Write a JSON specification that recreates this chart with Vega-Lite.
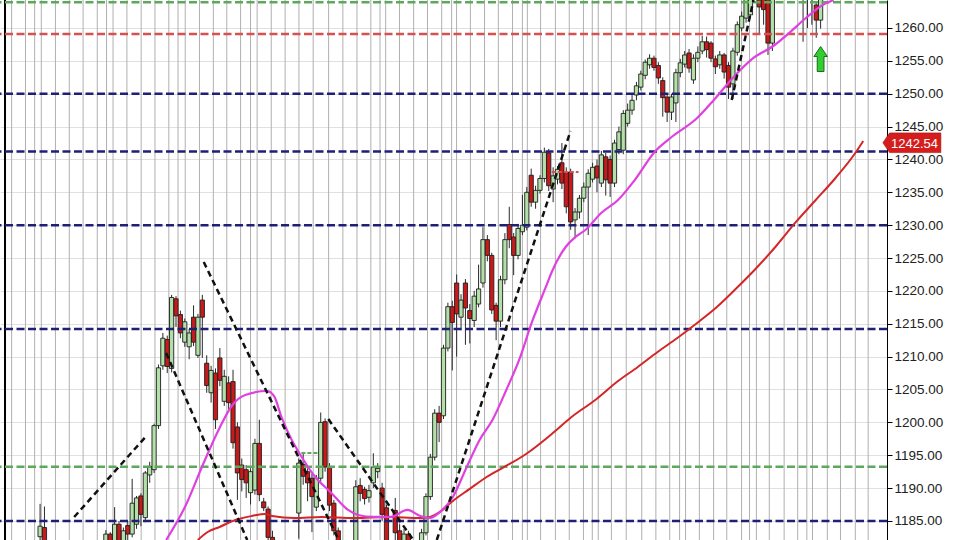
{
  "$schema": "https://vega.github.io/schema/vega-lite/v6.json",
  "width": 887,
  "height": 540,
  "autosize": {"type": "none"},
  "padding": {"left": 0, "top": 0, "right": 73, "bottom": 0},
  "background": "white",
  "config": {
    "view": {"stroke": null},
    "axisY": {"grid": true, "gridColor": "#e0e0e0", "gridWidth": 1, "domainColor": "#000000", "domainWidth": 1, "tickColor": "#000000", "tickSize": 5, "labelFont": "Liberation Sans", "labelFontSize": 13.5, "labelColor": "#222222", "labelPadding": 2, "labelOverlap": false, "labelFlush": false, "labelBound": false}
  },
  "datasets": {
    "vgrid": [{"t":1.51},{"t":4.67},{"t":6.76},{"t":8.28},{"t":11.5},{"t":14.66},{"t":17.81},{"t":21.04},{"t":23.16},{"t":24.64},{"t":27.8},{"t":31.05},{"t":34.2},{"t":37.36},{"t":39.46},{"t":41.1},{"t":44.35},{"t":47.51},{"t":50.58},{"t":53.73},{"t":55.99},{"t":57.5},{"t":60.72},{"t":63.88},{"t":67.03},{"t":70.28},{"t":73.8},{"t":77.05},{"t":80.27},{"t":83.43},{"t":85.52},{"t":86.81},{"t":89.97},{"t":93.19},{"t":96.35},{"t":99.59},{"t":101.85},{"t":102.98},{"t":106.13},{"t":109.36},{"t":112.51},{"t":115.74},{"t":117.99},{"t":119.12},{"t":122.14},{"t":125.52},{"t":128.68},{"t":131.91},{"t":133.93},{"t":135.29},{"t":138.29},{"t":141.67},{"t":145.21},{"t":148.43},{"t":151.59},{"t":153.84},{"t":155.2},{"t":158.35},{"t":161.6},{"t":164.6},{"t":167.98},{"t":169.79},{"t":171.36},{"t":174.3},{"t":177.68},{"t":180.77},{"t":182.86},{"t":184.15},{"t":187.53},{"t":190.53},{"t":193.91},{"t":196.84}],
    "levels": [{"p":1263.9,"kind":"green"},{"p":1259.1,"kind":"red"},{"p":1250,"kind":"navy"},{"p":1241.2,"kind":"navy"},{"p":1230,"kind":"navy"},{"p":1214.2,"kind":"navy"},{"p":1193.25,"kind":"green"},{"p":1185,"kind":"navy"}],
    "candles": [
      {"t":8,"o":1182.6,"h":1187.6,"l":1180.0,"c":1184.2},
      {"t":9,"o":1184.0,"h":1187.2,"l":1179.5,"c":1181.5},
      {"t":10,"o":1181.5,"h":1181.8,"l":1177.0,"c":1178.2},
      {"t":11,"o":1178.2,"h":1180.0,"l":1176.0,"c":1177.0},
      {"t":12,"o":1177.0,"h":1178.5,"l":1174.0,"c":1175.5},
      {"t":13,"o":1175.5,"h":1177.8,"l":1173.5,"c":1177.2},
      {"t":14,"o":1177.2,"h":1179.0,"l":1175.0,"c":1176.0},
      {"t":15,"o":1176.0,"h":1178.0,"l":1174.8,"c":1177.5},
      {"t":16,"o":1177.5,"h":1180.0,"l":1176.5,"c":1179.2},
      {"t":17,"o":1179.2,"h":1180.5,"l":1177.0,"c":1178.0},
      {"t":18,"o":1178.0,"h":1179.5,"l":1175.5,"c":1176.8},
      {"t":19,"o":1176.8,"h":1179.8,"l":1176.0,"c":1179.0},
      {"t":20,"o":1179.0,"h":1181.2,"l":1178.0,"c":1180.5},
      {"t":21,"o":1180.5,"h":1181.0,"l":1177.5,"c":1178.5},
      {"t":22,"o":1178.5,"h":1181.0,"l":1177.0,"c":1180.5},
      {"t":23,"o":1180.5,"h":1183.6,"l":1179.5,"c":1183.0},
      {"t":24,"o":1183.0,"h":1183.3,"l":1179.0,"c":1180.0},
      {"t":25,"o":1180.0,"h":1187.1,"l":1179.5,"c":1184.5},
      {"t":26,"o":1184.5,"h":1185.0,"l":1179.0,"c":1180.5},
      {"t":27,"o":1179.5,"h":1184.0,"l":1179.0,"c":1183.5},
      {"t":28,"o":1184.3,"h":1185.0,"l":1181.5,"c":1183.0},
      {"t":29,"o":1183.0,"h":1191.4,"l":1182.5,"c":1187.7},
      {"t":30,"o":1184.5,"h":1188.8,"l":1183.8,"c":1188.5},
      {"t":31,"o":1188.8,"h":1189.2,"l":1184.2,"c":1186.0},
      {"t":32,"o":1185.5,"h":1192.6,"l":1184.8,"c":1192.3},
      {"t":33,"o":1192.0,"h":1194.0,"l":1190.8,"c":1193.3},
      {"t":34,"o":1192.8,"h":1199.8,"l":1192.3,"c":1199.5},
      {"t":35,"o":1199.5,"h":1208.8,"l":1199.0,"c":1208.3},
      {"t":36,"o":1208.6,"h":1213.6,"l":1208.0,"c":1212.8},
      {"t":37,"o":1212.6,"h":1213.2,"l":1207.5,"c":1208.5},
      {"t":38,"o":1208.2,"h":1219.4,"l":1207.6,"c":1219.0},
      {"t":39,"o":1218.8,"h":1219.2,"l":1214.5,"c":1216.2},
      {"t":40,"o":1216.4,"h":1217.0,"l":1212.8,"c":1213.6},
      {"t":41,"o":1212.2,"h":1215.8,"l":1211.5,"c":1215.3},
      {"t":42,"o":1211.5,"h":1214.2,"l":1209.6,"c":1213.6},
      {"t":43,"o":1216.0,"h":1217.8,"l":1211.6,"c":1212.2},
      {"t":44,"o":1210.2,"h":1216.5,"l":1209.8,"c":1216.0},
      {"t":45,"o":1218.6,"h":1219.4,"l":1209.8,"c":1216.0},
      {"t":46,"o":1209.0,"h":1210.2,"l":1204.5,"c":1205.6},
      {"t":47,"o":1204.5,"h":1208.6,"l":1203.0,"c":1207.9},
      {"t":48,"o":1207.5,"h":1208.2,"l":1199.0,"c":1200.4},
      {"t":49,"o":1209.8,"h":1211.3,"l":1205.5,"c":1206.4},
      {"t":50,"o":1203.2,"h":1208.0,"l":1202.5,"c":1207.0},
      {"t":51,"o":1206.0,"h":1207.0,"l":1202.0,"c":1203.0},
      {"t":52,"o":1206.2,"h":1208.0,"l":1196.0,"c":1196.9},
      {"t":53,"o":1199.3,"h":1200.0,"l":1188.2,"c":1192.3},
      {"t":54,"o":1193.5,"h":1194.5,"l":1189.5,"c":1191.3},
      {"t":55,"o":1192.8,"h":1193.5,"l":1188.5,"c":1190.8},
      {"t":56,"o":1189.3,"h":1193.0,"l":1187.5,"c":1192.5},
      {"t":57,"o":1189.7,"h":1197.5,"l":1189.0,"c":1196.8},
      {"t":58,"o":1196.8,"h":1200.4,"l":1188.0,"c":1189.0},
      {"t":59,"o":1187.9,"h":1188.5,"l":1186.5,"c":1187.0},
      {"t":60,"o":1186.8,"h":1187.2,"l":1181.0,"c":1182.5},
      {"t":61,"o":1182.5,"h":1183.5,"l":1178.0,"c":1179.0},
      {"t":62,"o":1179.0,"h":1180.0,"l":1176.0,"c":1177.0},
      {"t":63,"o":1177.0,"h":1178.5,"l":1175.0,"c":1176.0},
      {"t":64,"o":1176.0,"h":1179.5,"l":1175.5,"c":1179.0},
      {"t":65,"o":1179.0,"h":1180.0,"l":1177.0,"c":1178.0},
      {"t":66,"o":1178.0,"h":1181.8,"l":1177.0,"c":1181.5},
      {"t":67,"o":1186.2,"h":1194.5,"l":1182.3,"c":1193.8},
      {"t":68,"o":1193.6,"h":1195.5,"l":1190.5,"c":1191.8},
      {"t":69,"o":1192.5,"h":1193.0,"l":1188.0,"c":1190.8},
      {"t":70,"o":1191.5,"h":1192.2,"l":1183.3,"c":1188.7},
      {"t":71,"o":1187.1,"h":1192.0,"l":1186.5,"c":1191.5},
      {"t":72,"o":1191.5,"h":1201.5,"l":1191.0,"c":1200.0},
      {"t":73,"o":1200.1,"h":1200.6,"l":1192.5,"c":1193.2},
      {"t":74,"o":1193.2,"h":1193.8,"l":1186.5,"c":1187.4},
      {"t":75,"o":1187.7,"h":1188.2,"l":1182.8,"c":1183.5},
      {"t":76,"o":1183.5,"h":1184.0,"l":1179.5,"c":1181.0},
      {"t":77,"o":1181.2,"h":1182.0,"l":1178.5,"c":1180.0},
      {"t":78,"o":1180.0,"h":1181.8,"l":1179.0,"c":1181.5},
      {"t":79,"o":1181.5,"h":1181.9,"l":1179.5,"c":1180.0},
      {"t":80,"o":1180.5,"h":1191.2,"l":1180.0,"c":1190.2},
      {"t":81,"o":1190.4,"h":1191.5,"l":1188.0,"c":1189.2},
      {"t":82,"o":1189.8,"h":1190.2,"l":1187.5,"c":1188.4},
      {"t":83,"o":1188.6,"h":1190.5,"l":1187.8,"c":1189.6},
      {"t":84,"o":1190.8,"h":1195.3,"l":1190.0,"c":1193.2},
      {"t":85,"o":1192.5,"h":1193.8,"l":1191.5,"c":1193.0},
      {"t":86,"o":1190.0,"h":1190.8,"l":1185.0,"c":1186.0},
      {"t":87,"o":1187.0,"h":1187.5,"l":1180.0,"c":1181.3},
      {"t":88,"o":1181.5,"h":1181.9,"l":1179.0,"c":1180.0},
      {"t":89,"o":1186.6,"h":1188.5,"l":1182.0,"c":1183.2},
      {"t":90,"o":1183.5,"h":1184.5,"l":1179.5,"c":1181.0},
      {"t":91,"o":1181.0,"h":1183.8,"l":1180.5,"c":1183.0},
      {"t":92,"o":1183.0,"h":1183.5,"l":1180.0,"c":1181.0},
      {"t":93,"o":1181.5,"h":1181.9,"l":1178.5,"c":1179.5},
      {"t":94,"o":1179.5,"h":1181.5,"l":1178.0,"c":1181.0},
      {"t":95,"o":1181.0,"h":1183.8,"l":1180.5,"c":1183.2},
      {"t":96,"o":1183.2,"h":1189.2,"l":1182.8,"c":1188.7},
      {"t":97,"o":1188.7,"h":1195.2,"l":1188.2,"c":1194.7},
      {"t":98,"o":1194.7,"h":1202.0,"l":1194.2,"c":1201.4},
      {"t":99,"o":1201.4,"h":1202.5,"l":1197.0,"c":1200.0},
      {"t":100,"o":1201.0,"h":1211.8,"l":1200.5,"c":1211.3},
      {"t":101,"o":1211.3,"h":1218.2,"l":1210.8,"c":1217.6},
      {"t":102,"o":1217.6,"h":1218.5,"l":1207.9,"c":1215.2},
      {"t":103,"o":1221.2,"h":1222.5,"l":1210.0,"c":1216.5},
      {"t":104,"o":1216.0,"h":1219.5,"l":1214.0,"c":1218.6},
      {"t":105,"o":1221.2,"h":1221.8,"l":1211.8,"c":1217.4},
      {"t":106,"o":1217.0,"h":1218.0,"l":1212.0,"c":1215.8},
      {"t":107,"o":1215.5,"h":1220.0,"l":1214.5,"c":1219.2},
      {"t":108,"o":1218.0,"h":1224.0,"l":1217.5,"c":1220.3},
      {"t":109,"o":1221.2,"h":1229.7,"l":1220.5,"c":1227.8},
      {"t":110,"o":1227.8,"h":1228.5,"l":1224.5,"c":1225.4},
      {"t":111,"o":1225.4,"h":1225.8,"l":1216.5,"c":1217.1},
      {"t":112,"o":1217.8,"h":1218.2,"l":1212.5,"c":1215.4},
      {"t":113,"o":1215.4,"h":1222.3,"l":1214.5,"c":1221.7},
      {"t":114,"o":1221.7,"h":1228.8,"l":1221.0,"c":1227.8},
      {"t":115,"o":1230.1,"h":1232.8,"l":1226.5,"c":1227.8},
      {"t":116,"o":1228.2,"h":1228.8,"l":1222.4,"c":1225.4},
      {"t":117,"o":1225.4,"h":1230.2,"l":1224.8,"c":1229.5},
      {"t":118,"o":1229.0,"h":1234.6,"l":1228.5,"c":1230.0},
      {"t":119,"o":1229.7,"h":1235.8,"l":1229.2,"c":1235.0},
      {"t":120,"o":1237.6,"h":1238.6,"l":1232.8,"c":1233.5},
      {"t":121,"o":1233.5,"h":1236.0,"l":1232.5,"c":1235.3},
      {"t":122,"o":1235.3,"h":1237.6,"l":1234.8,"c":1237.1},
      {"t":123,"o":1237.1,"h":1241.8,"l":1236.5,"c":1241.1},
      {"t":124,"o":1241.0,"h":1241.6,"l":1235.2,"c":1236.0},
      {"t":125,"o":1235.5,"h":1238.8,"l":1233.5,"c":1237.5},
      {"t":126,"o":1237.0,"h":1239.0,"l":1236.2,"c":1238.5},
      {"t":127,"o":1239.5,"h":1242.5,"l":1235.5,"c":1236.4},
      {"t":128,"o":1238.0,"h":1238.8,"l":1231.8,"c":1232.8},
      {"t":129,"o":1238.1,"h":1238.6,"l":1229.3,"c":1230.5},
      {"t":130,"o":1230.8,"h":1232.6,"l":1228.0,"c":1232.0},
      {"t":131,"o":1232.0,"h":1234.6,"l":1231.0,"c":1234.1},
      {"t":132,"o":1234.1,"h":1236.5,"l":1233.5,"c":1235.8},
      {"t":133,"o":1235.8,"h":1238.5,"l":1228.5,"c":1237.9},
      {"t":134,"o":1237.0,"h":1239.5,"l":1236.5,"c":1238.8},
      {"t":135,"o":1239.0,"h":1240.0,"l":1235.0,"c":1237.2},
      {"t":136,"o":1236.4,"h":1241.3,"l":1235.8,"c":1240.7},
      {"t":137,"o":1240.4,"h":1241.0,"l":1234.5,"c":1236.9},
      {"t":138,"o":1240.0,"h":1240.6,"l":1234.3,"c":1236.4},
      {"t":139,"o":1236.4,"h":1243.0,"l":1235.8,"c":1242.5},
      {"t":140,"o":1241.5,"h":1245.0,"l":1240.8,"c":1244.2},
      {"t":141,"o":1241.4,"h":1247.5,"l":1240.8,"c":1247.0},
      {"t":142,"o":1245.5,"h":1248.5,"l":1245.0,"c":1247.5},
      {"t":143,"o":1247.5,"h":1249.8,"l":1246.8,"c":1249.0},
      {"t":144,"o":1249.8,"h":1251.8,"l":1249.0,"c":1251.2},
      {"t":145,"o":1251.0,"h":1253.5,"l":1250.5,"c":1253.0},
      {"t":146,"o":1252.8,"h":1255.2,"l":1252.2,"c":1254.8},
      {"t":147,"o":1254.4,"h":1256.0,"l":1253.8,"c":1255.4},
      {"t":148,"o":1255.4,"h":1255.8,"l":1253.5,"c":1254.0},
      {"t":149,"o":1254.3,"h":1254.8,"l":1251.5,"c":1252.4},
      {"t":150,"o":1252.0,"h":1252.5,"l":1246.5,"c":1249.4},
      {"t":151,"o":1249.5,"h":1250.0,"l":1245.7,"c":1247.2},
      {"t":152,"o":1247.2,"h":1250.0,"l":1246.0,"c":1249.5},
      {"t":153,"o":1248.6,"h":1253.8,"l":1245.7,"c":1253.2},
      {"t":154,"o":1253.2,"h":1255.3,"l":1252.5,"c":1254.7},
      {"t":155,"o":1254.5,"h":1256.5,"l":1254.0,"c":1255.9},
      {"t":156,"o":1256.2,"h":1256.8,"l":1253.2,"c":1253.9},
      {"t":157,"o":1252.1,"h":1256.0,"l":1251.5,"c":1255.4},
      {"t":158,"o":1255.4,"h":1257.2,"l":1254.8,"c":1256.3},
      {"t":159,"o":1256.5,"h":1258.8,"l":1256.0,"c":1257.9},
      {"t":160,"o":1257.9,"h":1258.7,"l":1255.5,"c":1256.7},
      {"t":161,"o":1257.7,"h":1258.0,"l":1254.8,"c":1255.4},
      {"t":162,"o":1255.3,"h":1255.8,"l":1253.0,"c":1254.1},
      {"t":163,"o":1254.4,"h":1256.5,"l":1253.8,"c":1255.9},
      {"t":164,"o":1255.9,"h":1256.2,"l":1252.3,"c":1253.3},
      {"t":165,"o":1254.3,"h":1254.8,"l":1249.2,"c":1251.0},
      {"t":166,"o":1251.5,"h":1257.0,"l":1249.2,"c":1256.5},
      {"t":167,"o":1256.3,"h":1261.0,"l":1255.8,"c":1260.5},
      {"t":168,"o":1260.0,"h":1262.5,"l":1259.5,"c":1261.8},
      {"t":169,"o":1261.5,"h":1266.0,"l":1260.8,"c":1265.5},
      {"t":170,"o":1262.0,"h":1268.0,"l":1261.5,"c":1267.0},
      {"t":171,"o":1265.0,"h":1268.5,"l":1264.5,"c":1268.0},
      {"t":172,"o":1268.0,"h":1269.0,"l":1259.0,"c":1263.2},
      {"t":173,"o":1264.5,"h":1266.0,"l":1260.5,"c":1262.8},
      {"t":174,"o":1264.5,"h":1265.0,"l":1255.9,"c":1257.7},
      {"t":175,"o":1257.7,"h":1267.0,"l":1256.5,"c":1266.0},
      {"t":176,"o":1266.0,"h":1269.0,"l":1265.0,"c":1268.0},
      {"t":177,"o":1268.0,"h":1268.5,"l":1265.5,"c":1266.5},
      {"t":178,"o":1266.5,"h":1268.0,"l":1265.0,"c":1267.5},
      {"t":179,"o":1267.5,"h":1268.2,"l":1265.8,"c":1266.8},
      {"t":180,"o":1266.8,"h":1268.0,"l":1266.0,"c":1267.2},
      {"t":181,"o":1267.2,"h":1267.8,"l":1265.4,"c":1266.5},
      {"t":182,"o":1266.5,"h":1267.0,"l":1257.9,"c":1265.5},
      {"t":183,"o":1265.5,"h":1266.0,"l":1260.0,"c":1265.0},
      {"t":184,"o":1265.0,"h":1265.4,"l":1260.5,"c":1264.6},
      {"t":185,"o":1263.5,"h":1264.0,"l":1258.5,"c":1261.2},
      {"t":186,"o":1261.2,"h":1264.8,"l":1259.9,"c":1264.4}
    ],
    "fastma": [{"t":36.75,"p":1182.1},{"t":41.26,"p":1187.43},{"t":45.1,"p":1193.51},{"t":48.93,"p":1199.15},{"t":51.86,"p":1202.64},{"t":54.79,"p":1204.17},{"t":59.75,"p":1204.77},{"t":61.33,"p":1204.01},{"t":63.13,"p":1200.67},{"t":65.39,"p":1197.32},{"t":66.97,"p":1195.49},{"t":70.57,"p":1191.84},{"t":74.41,"p":1189.26},{"t":78.24,"p":1186.67},{"t":80.5,"p":1185.91},{"t":84.1,"p":1185.61},{"t":87.94,"p":1185.61},{"t":91.77,"p":1186.67},{"t":94.7,"p":1185.76},{"t":96.96,"p":1185.45},{"t":99.21,"p":1186.37},{"t":102.14,"p":1188.65},{"t":105.3,"p":1193.21},{"t":108.23,"p":1197.32},{"t":111.16,"p":1200.36},{"t":114.32,"p":1204.93},{"t":117.25,"p":1209.49},{"t":120.18,"p":1215.27},{"t":123.34,"p":1220.6},{"t":124.69,"p":1222.88},{"t":127.85,"p":1226.68},{"t":130.1,"p":1228.2},{"t":132.36,"p":1229.27},{"t":135.96,"p":1231.85},{"t":139.8,"p":1233.83},{"t":143.63,"p":1236.88},{"t":148.14,"p":1241.14},{"t":151.75,"p":1243.26},{"t":157.84,"p":1246.3},{"t":161.67,"p":1249.05},{"t":166.18,"p":1252.55},{"t":170.69,"p":1255.44},{"t":175.2,"p":1257.26},{"t":178.81,"p":1259.24},{"t":182.64,"p":1261.52},{"t":186.47,"p":1263.5},{"t":188.95,"p":1264.26}],
    "slowma": [{"t":43.97,"p":1182.1},{"t":46.22,"p":1183.32},{"t":48.93,"p":1184.08},{"t":52.54,"p":1185.15},{"t":56.37,"p":1185.76},{"t":59.3,"p":1186.06},{"t":60.88,"p":1185.76},{"t":66.07,"p":1185.45},{"t":72.15,"p":1185.61},{"t":79.59,"p":1185.45},{"t":87.26,"p":1185.61},{"t":94.7,"p":1185.45},{"t":96.96,"p":1185.61},{"t":99.21,"p":1186.37},{"t":102.14,"p":1188.04},{"t":105.98,"p":1189.87},{"t":109.81,"p":1191.69},{"t":113.87,"p":1193.21},{"t":118.83,"p":1195.19},{"t":124.69,"p":1198.23},{"t":129.2,"p":1200.82},{"t":134.61,"p":1203.41},{"t":139.8,"p":1206.29},{"t":144.31,"p":1208.43},{"t":148.82,"p":1210.71},{"t":153.33,"p":1212.84},{"t":157.84,"p":1215.12},{"t":162.34,"p":1217.55},{"t":166.85,"p":1220.44},{"t":171.36,"p":1223.49},{"t":175.87,"p":1226.83},{"t":180.38,"p":1230.49},{"t":184.89,"p":1233.83},{"t":189.4,"p":1237.18},{"t":193.91,"p":1240.98},{"t":195.72,"p":1242.81}],
    "trend": [{"id":"L1","t":15.78,"p":1185.6},{"id":"L1","t":32.02,"p":1197.77},{"id":"L2","t":36.75,"p":1210.56},{"id":"L2","t":55.24,"p":1182.1},{"id":"L3","t":45.32,"p":1224.4},{"id":"L3","t":76.1,"p":1182.1},{"id":"L4","t":73.73,"p":1200.51},{"id":"L4","t":93.12,"p":1182.1},{"id":"L5","t":98.47,"p":1182.1},{"id":"L5","t":128.97,"p":1244.33},{"id":"L6","t":165.73,"p":1249.05},{"id":"L6","t":170.69,"p":1264.26}],
    "segs": [{"t":67.6,"t2":71.7,"p":1195.34,"kind":"cyan"},{"t":124.7,"t2":130.8,"p":1238.1,"kind":"purple"}]
  },
  "layer": [
    {
      "data": {"name": "vgrid"},
      "mark": {"type": "rule", "color": "#b0b0b0", "strokeWidth": 1},
      "encoding": {
        "x": {"field": "t", "type": "quantitative", "scale": {"domain": [0, 200], "nice": false, "zero": false}, "axis": null}
      }
    },
    {
      "data": {"values": [{"t": 0}]},
      "mark": {"type": "rule", "color": "#000000", "strokeWidth": 2},
      "encoding": {
        "x": {"field": "t", "type": "quantitative", "axis": null}
      }
    },
    {
      "data": {"name": "candles"},
      "mark": {"type": "rule", "color": "#2a2a2a", "strokeWidth": 1, "clip": true},
      "encoding": {
        "x": {"field": "t", "type": "quantitative", "axis": null},
        "y": {"field": "l", "type": "quantitative", "title": null, "scale": {"domain": [1182.1, 1264.26], "nice": false, "zero": false},
          "axis": {"orient": "right", "values": [1185,1190,1195,1200,1205,1210,1215,1220,1225,1230,1235,1240,1245,1250,1255,1260], "format": ".2f", "title": null}},
        "y2": {"field": "h"}
      }
    },
    {
      "data": {"name": "candles"},
      "mark": {"type": "bar", "width": 4.2, "stroke": "#1e1e1e", "strokeWidth": 0.9, "clip": true},
      "encoding": {
        "x": {"field": "t", "type": "quantitative", "axis": null},
        "y": {"field": "o", "type": "quantitative", "title": null, "axis": {"orient": "right", "values": [1185,1190,1195,1200,1205,1210,1215,1220,1225,1230,1235,1240,1245,1250,1255,1260], "format": ".2f", "title": null}},
        "y2": {"field": "c"},
        "fill": {"condition": {"test": "datum.c >= datum.o", "value": "#b2e0a8"}, "value": "#c8191b"}
      }
    },
    {
      "data": {"name": "levels"},
      "mark": {"type": "rule", "strokeWidth": 2.5, "strokeDash": [8, 3.5]},
      "encoding": {
        "y": {"field": "p", "type": "quantitative", "title": null, "axis": {"orient": "right", "values": [1185,1190,1195,1200,1205,1210,1215,1220,1225,1230,1235,1240,1245,1250,1255,1260], "format": ".2f", "title": null}},
        "stroke": {"field": "kind", "type": "nominal", "scale": {"domain": ["green", "red", "navy"], "range": ["#5ea85e", "#d65252", "#1f1f78"]}, "legend": null}
      }
    },
    {
      "data": {"name": "slowma"},
      "mark": {"type": "line", "color": "#d42626", "strokeWidth": 2, "interpolate": "monotone", "clip": true},
      "encoding": {
        "x": {"field": "t", "type": "quantitative", "axis": null},
        "y": {"field": "p", "type": "quantitative", "title": null, "axis": {"orient": "right", "values": [1185,1190,1195,1200,1205,1210,1215,1220,1225,1230,1235,1240,1245,1250,1255,1260], "format": ".2f", "title": null}}
      }
    },
    {
      "data": {"name": "fastma"},
      "mark": {"type": "line", "color": "#e040e0", "strokeWidth": 2.2, "interpolate": "monotone", "clip": true},
      "encoding": {
        "x": {"field": "t", "type": "quantitative", "axis": null},
        "y": {"field": "p", "type": "quantitative", "title": null, "axis": {"orient": "right", "values": [1185,1190,1195,1200,1205,1210,1215,1220,1225,1230,1235,1240,1245,1250,1255,1260], "format": ".2f", "title": null}}
      }
    },
    {
      "data": {"name": "trend"},
      "mark": {"type": "line", "color": "#111111", "strokeWidth": 2.5, "strokeDash": [6, 4], "clip": true},
      "encoding": {
        "x": {"field": "t", "type": "quantitative", "axis": null},
        "y": {"field": "p", "type": "quantitative", "title": null, "axis": {"orient": "right", "values": [1185,1190,1195,1200,1205,1210,1215,1220,1225,1230,1235,1240,1245,1250,1255,1260], "format": ".2f", "title": null}},
        "detail": {"field": "id"}
      }
    },
    {
      "data": {"name": "segs"},
      "mark": {"type": "rule", "strokeWidth": 2, "strokeDash": [4, 2]},
      "encoding": {
        "x": {"field": "t", "type": "quantitative", "axis": null},
        "x2": {"field": "t2"},
        "y": {"field": "p", "type": "quantitative", "title": null, "axis": {"orient": "right", "values": [1185,1190,1195,1200,1205,1210,1215,1220,1225,1230,1235,1240,1245,1250,1255,1260], "format": ".2f", "title": null}},
        "stroke": {"field": "kind", "type": "nominal", "scale": {"domain": ["cyan", "purple"], "range": ["#6ee0e8", "#a070d8"]}, "legend": null}
      }
    },
    {
      "data": {"values": [{"t": 186, "p": 1255.28}]},
      "mark": {"type": "point", "shape": "M0,-1L0.54,-0.2L0.27,-0.2L0.27,1L-0.27,1L-0.27,-0.2L-0.54,-0.2Z", "size": 625, "filled": true, "fill": "#33cc33", "stroke": "#1b6b1b", "strokeWidth": 1, "opacity": 1},
      "encoding": {
        "x": {"field": "t", "type": "quantitative", "axis": null},
        "y": {"field": "p", "type": "quantitative", "title": null, "axis": {"orient": "right", "values": [1185,1190,1195,1200,1205,1210,1215,1220,1225,1230,1235,1240,1245,1250,1255,1260], "format": ".2f", "title": null}}
      }
    },
    {
      "data": {"values": [{"p": 1242.54, "label": "1242.54"}]},
      "mark": {"type": "point", "shape": "M0.03,0L0.26,-0.34L2.03,-0.34L2.03,0.34L0.26,0.34Z", "size": 3364, "filled": true, "fill": "#d41e1e", "stroke": "#a01010", "strokeWidth": 0.6, "opacity": 1},
      "encoding": {
        "x": {"datum": 200, "type": "quantitative", "axis": null},
        "y": {"field": "p", "type": "quantitative", "title": null, "axis": {"orient": "right", "values": [1185,1190,1195,1200,1205,1210,1215,1220,1225,1230,1235,1240,1245,1250,1255,1260], "format": ".2f", "title": null}}
      }
    },
    {
      "data": {"values": [{"p": 1242.54, "label": "1242.54"}]},
      "mark": {"type": "text", "align": "left", "baseline": "middle", "dx": 9, "dy": 1, "font": "Liberation Sans", "fontSize": 13, "color": "#ffffff"},
      "encoding": {
        "x": {"datum": 200, "type": "quantitative", "axis": null},
        "y": {"field": "p", "type": "quantitative", "title": null, "axis": {"orient": "right", "values": [1185,1190,1195,1200,1205,1210,1215,1220,1225,1230,1235,1240,1245,1250,1255,1260], "format": ".2f", "title": null}},
        "text": {"field": "label"}
      }
    }
  ]
}
